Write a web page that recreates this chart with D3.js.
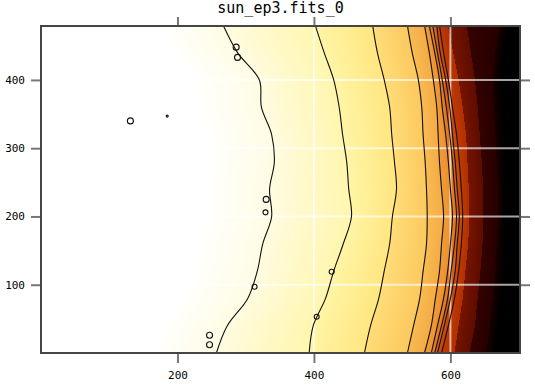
<!DOCTYPE html>
<html>
<head>
<meta charset="utf-8">
<script src="https://cdnjs.cloudflare.com/ajax/libs/d3/7.8.5/d3.min.js"></script>
<style>
  body { margin: 0; background: #fff; }
  svg text { font-family: "DejaVu Sans Mono", "Liberation Mono", monospace; fill: #000; }
</style>
</head>
<body>
<div id="chart"></div>
<script>
// rows (data y) where the contour positions were read
var sampleY = [0, 40, 80, 120, 160, 200, 240, 280, 320, 360, 400, 440, 480];

// x position of each level along sampleY
var whiteEdge = [157, 173, 203, 217, 225, 238, 235, 242, 238, 223, 220, 188, 167];
var level1 = [257, 273, 303, 317, 325, 338, 335, 342, 338, 323, 320, 288, 267];
var level2 = [393, 399, 417, 429, 443, 455, 451, 448, 442, 437, 429, 415, 402];
var level3 = [474, 483, 495, 503, 511, 515, 521, 518, 514, 511, 503, 493, 486];
var level4 = [537, 546, 555, 560, 565, 566, 565, 563, 560, 558, 553, 544, 537];
var level5 = [562, 572, 578, 584, 587, 590, 587, 584, 582, 580, 575, 569, 562];
var level6 = [572, 581, 590, 596, 600, 603, 600, 597, 593, 588, 584, 577, 569];
var level7 = [577, 587, 596, 601, 606, 609, 606, 603, 599, 594, 588, 581, 574];
var level8 = [581, 591, 600, 607, 610, 613, 610, 607, 603, 599, 593, 585, 580];
var level9 = [587, 597, 606, 612, 616, 618, 616, 613, 609, 603, 597, 590, 584];
var redEdge = [606, 612, 618, 622, 626, 628, 627, 625, 623, 618, 612, 604, 596];
var darkEdge = [628, 636, 640, 644, 647, 648, 648, 646, 643, 640, 636, 630, 624];
var blackEdge = [652, 658, 662, 666, 668, 670, 670, 668, 666, 664, 662, 666, 672];

// small closed contours (data x, data y, radius in px)
var islandX = [131, 185, 286, 288, 330, 329, 247, 247, 313, 404, 426];
var islandY = [340, 347, 448, 433, 225, 206, 26, 12, 97, 53, 119];
var islandR = [3, 1, 3, 3, 3, 2.5, 3, 3, 2.5, 2.5, 2.5];

var xTicks = [200, 400, 600];
var yTicks = [100, 200, 300, 400];
var title = "sun_ep3.fits_0";

var width = 535, height = 385;
var plotLeft = 41, plotRight = 520, plotTop = 26, plotBottom = 353;

var x = d3.scaleLinear().domain([0, 702]).range([plotLeft, plotRight]);
var y = d3.scaleLinear().domain([0, 479]).range([plotBottom, plotTop]);

var svg = d3.select("#chart").append("svg")
  .attr("width", width)
  .attr("height", height);

// ---- colour field ----
var edges = [whiteEdge, level1, level2, level3, level4, level5, level6,
  level7, level8, level9, redEdge, darkEdge, blackEdge];
var bandFrom = ["#ffffff", "#fffbe0", "#fff5a6", "#ffdd78", "#f8bb52", "#f09c38",
  "#e68028", "#d86418", "#cc4c0a", "#c03a04", "#761400", "#340200"];
var bandTo = ["#fffce4", "#fff6ae", "#ffe680", "#fcc85e", "#f5ab44", "#ec9030",
  "#e07420", "#d45c12", "#c84408", "#b03000", "#5e0c00", "#260000"];
var bandInterp = bandFrom.map(function(c, i) { return d3.interpolateRgb(c, bandTo[i]); });
var tailInterp = d3.interpolateRgb("#180000", "#000000");

var edgeScales = edges.map(function(e) {
  return d3.scaleLinear().domain(sampleY).range(e);
});

var cw = plotRight - plotLeft, ch = plotBottom - plotTop;
var canvas = document.createElement("canvas");
canvas.width = cw;
canvas.height = ch;
var ctx = canvas.getContext("2d");
var img = ctx.createImageData(cw, ch);

for (var row = 0; row < ch; row++) {
  var yv = y.invert(plotTop + row + 0.5);
  var pos = edgeScales.map(function(s) { return s(yv); });
  for (var col = 0; col < cw; col++) {
    var xv = x.invert(plotLeft + col + 0.5);
    var c;
    if (xv < pos[0]) {
      c = "#ffffff";
    } else if (xv >= pos[pos.length - 1]) {
      c = tailInterp(Math.min(1, (xv - pos[pos.length - 1]) / 12));
    } else {
      var i = 0;
      while (xv >= pos[i + 1]) i++;
      c = bandInterp[i]((xv - pos[i]) / (pos[i + 1] - pos[i]));
    }
    var rgb = d3.rgb(c);
    var k = (row * cw + col) * 4;
    img.data[k] = rgb.r;
    img.data[k + 1] = rgb.g;
    img.data[k + 2] = rgb.b;
    img.data[k + 3] = 255;
  }
}
ctx.putImageData(img, 0, 0);

svg.append("image")
  .attr("x", plotLeft)
  .attr("y", plotTop)
  .attr("width", cw)
  .attr("height", ch)
  .attr("preserveAspectRatio", "none")
  .attr("href", canvas.toDataURL());

// ---- grid ----
svg.append("g").selectAll("line").data(yTicks).enter().append("line")
  .attr("x1", plotLeft).attr("x2", plotRight)
  .attr("y1", function(d) { return y(d); })
  .attr("y2", function(d) { return y(d); })
  .attr("stroke", "#fff").attr("stroke-opacity", 0.65).attr("stroke-width", 2);

svg.append("g").selectAll("line").data(xTicks).enter().append("line")
  .attr("y1", plotTop).attr("y2", plotBottom)
  .attr("x1", function(d) { return x(d); })
  .attr("x2", function(d) { return x(d); })
  .attr("stroke", "#fff").attr("stroke-opacity", 0.65).attr("stroke-width", 2);

// ---- contour lines ----
var contours = [level1, level2, level3, level4, level5, level6, level7, level8, level9];
var line = d3.line()
  .x(function(d) { return x(d); })
  .y(function(d, i) { return y(sampleY[i]); })
  .curve(d3.curveCatmullRom);

svg.append("g").selectAll("path").data(contours).enter().append("path")
  .attr("d", line)
  .attr("fill", "none")
  .attr("stroke", "#111")
  .attr("stroke-width", 1.1);

svg.append("g").selectAll("circle").data(islandX).enter().append("circle")
  .attr("cx", function(d) { return x(d); })
  .attr("cy", function(d, i) { return y(islandY[i]); })
  .attr("r", function(d, i) { return islandR[i]; })
  .attr("fill", "none")
  .attr("stroke", "#111")
  .attr("stroke-width", 1.1);

// ---- axes ----
function styleAxis(g) {
  g.select(".domain").remove();
  g.selectAll(".tick line").attr("stroke", "#777").attr("stroke-width", 2);
  g.selectAll(".tick text").attr("font-size", 11).attr("font-family", "DejaVu Sans Mono");
}

svg.append("g")
  .attr("transform", "translate(0," + plotBottom + ")")
  .call(d3.axisBottom(x).tickValues(xTicks).tickSize(10).tickPadding(8))
  .call(styleAxis);

svg.append("g")
  .attr("transform", "translate(" + plotLeft + ",0)")
  .call(d3.axisLeft(y).tickValues(yTicks).tickSize(10).tickPadding(6))
  .call(styleAxis);

svg.append("g")
  .attr("transform", "translate(0," + plotTop + ")")
  .call(d3.axisTop(x).tickValues(xTicks).tickSize(9).tickFormat(""))
  .call(styleAxis);

svg.append("g")
  .attr("transform", "translate(" + plotRight + ",0)")
  .call(d3.axisRight(y).tickValues(yTicks).tickSize(10).tickFormat(""))
  .call(styleAxis);

// frame
svg.append("rect")
  .attr("x", plotLeft).attr("y", plotTop)
  .attr("width", plotRight - plotLeft).attr("height", plotBottom - plotTop)
  .attr("fill", "none")
  .attr("stroke", "#454545")
  .attr("stroke-width", 2);

svg.append("text")
  .text(title)
  .attr("x", (plotLeft + plotRight) / 2)
  .attr("y", 13)
  .attr("text-anchor", "middle")
  .attr("font-size", 15)
  .attr("font-family", "Liberation Mono");
</script>
</body>
</html>
